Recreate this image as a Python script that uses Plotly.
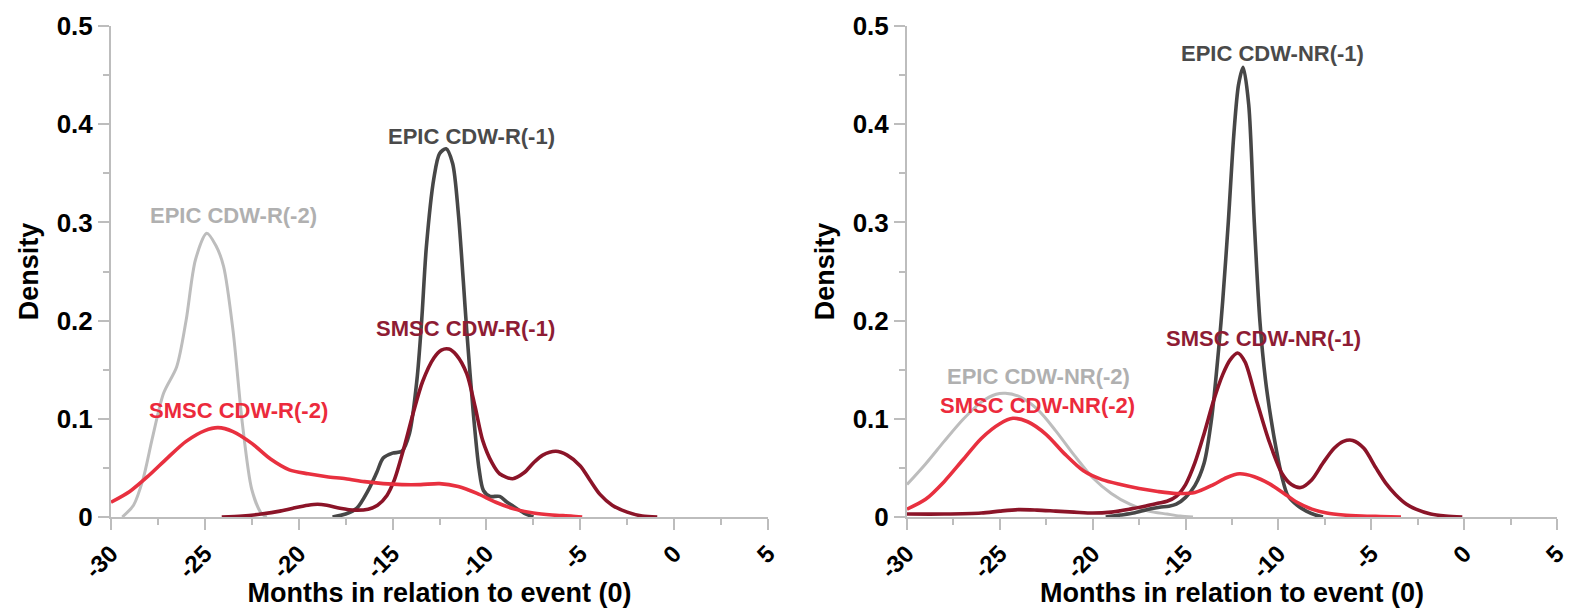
import plotly.graph_objects as go

# ---------------- data ----------------
# Left panel: CDW-R
epic_r2_x = [-29.4, -28.8, -28.3, -27.8, -27.2, -26.5, -26.0, -25.5, -24.9, -24.4, -24.0, -23.5, -23.0, -22.5, -22.0, -21.7]
epic_r2_y = [0.0, 0.012, 0.038, 0.08, 0.126, 0.153, 0.2, 0.262, 0.289, 0.276, 0.255, 0.19, 0.095, 0.028, 0.004, 0.0]

epic_r1_x = [-18.2, -17.5, -16.9, -16.3, -15.85, -15.5, -15.0, -14.5, -14.1, -13.7, -13.45, -13.2, -12.8, -12.5, -12.15,
             -11.8, -11.5, -11.23, -11.05, -10.7, -10.4, -10.16, -9.8, -9.3, -8.9, -8.57, -8.0, -7.5]
epic_r1_y = [0.0, 0.003, 0.009, 0.027, 0.045, 0.06, 0.065, 0.067, 0.085, 0.14, 0.2, 0.275, 0.345, 0.37, 0.375,
             0.36, 0.31, 0.24, 0.19, 0.106, 0.05, 0.027, 0.021, 0.021, 0.015, 0.011, 0.004, 0.0]

smsc_r1_x = [-24.1, -23.0, -22.0, -21.0, -20.3, -19.5, -19.0, -18.5, -17.8, -17.0, -16.3, -15.8, -15.3, -14.9, -14.4,
             -13.9, -13.4, -12.8, -12.4, -12.0, -11.6, -11.05, -10.6, -10.2, -9.7, -9.3, -8.6, -8.0, -7.5, -7.0,
             -6.3, -5.7, -5.0, -4.5, -3.95, -3.3, -2.5, -1.7, -0.9]
smsc_r1_y = [0.0, 0.001, 0.003, 0.006, 0.009, 0.012, 0.013, 0.012, 0.009, 0.007, 0.008, 0.012, 0.022, 0.038, 0.07,
             0.106, 0.138, 0.162, 0.17, 0.171, 0.165, 0.146, 0.112, 0.078, 0.055, 0.044, 0.039, 0.045, 0.055, 0.063,
             0.067, 0.063, 0.052, 0.038, 0.023, 0.012, 0.005, 0.001, 0.0]

smsc_r2_x = [-30.0, -29.0, -28.0, -27.0, -26.0, -25.0, -24.3, -23.5, -22.5, -21.5, -20.5, -19.5, -18.5, -17.5, -16.5,
             -15.5, -14.5, -13.5, -12.5, -11.5, -10.5, -9.5, -8.5, -7.5, -6.5, -5.5, -4.9]
smsc_r2_y = [0.015, 0.026, 0.042, 0.060, 0.077, 0.088, 0.091, 0.087, 0.075, 0.059, 0.048, 0.044, 0.041, 0.039, 0.036,
             0.034, 0.033, 0.033, 0.034, 0.031, 0.024, 0.015, 0.008, 0.004, 0.002, 0.001, 0.0]

# Right panel: CDW-NR
epic_nr2_x = [-30.0, -29.0, -28.0, -27.0, -26.0, -25.2, -24.7, -24.0, -23.0, -22.0, -21.0, -20.0, -19.0, -18.0, -17.0,
              -16.0, -15.3, -14.6]
epic_nr2_y = [0.033, 0.054, 0.077, 0.099, 0.117, 0.125, 0.126, 0.123, 0.11, 0.088, 0.063, 0.04, 0.024, 0.013, 0.006,
              0.003, 0.001, 0.0]

epic_nr1_x = [-19.3, -18.5, -17.8, -17.0, -16.4, -15.9, -15.5, -15.0, -14.5, -14.0, -13.6, -13.2, -13.0, -12.7, -12.4,
              -12.15, -11.9, -11.6, -11.3, -11.0, -10.7, -10.4, -10.1, -9.8, -9.5, -9.0, -8.5, -8.0, -7.6]
epic_nr1_y = [0.0, 0.002, 0.004, 0.008, 0.01, 0.011, 0.013, 0.02, 0.032, 0.055, 0.1, 0.175, 0.22, 0.3, 0.39,
              0.44, 0.458, 0.42, 0.3, 0.2, 0.14, 0.1, 0.067, 0.04, 0.022, 0.012, 0.006, 0.002, 0.0]

smsc_nr1_x = [-30.0, -28.0, -26.0, -25.0, -24.0, -23.0, -22.0, -21.0, -20.0, -19.0, -18.0, -17.2, -16.5, -16.0, -15.5,
              -15.0, -14.5, -14.0, -13.5, -13.0, -12.6, -12.2, -11.8, -11.2, -10.5, -9.8, -9.3, -8.8, -8.2, -7.6,
              -7.0, -6.5, -6.0, -5.4, -4.75, -4.2, -3.7, -3.1, -2.6, -1.8, -1.0, -0.1]
smsc_nr1_y = [0.003, 0.003, 0.004, 0.006, 0.0075, 0.007, 0.006, 0.005, 0.004, 0.005, 0.008, 0.011, 0.014, 0.016, 0.021,
              0.033, 0.055, 0.085, 0.118, 0.145, 0.16, 0.167, 0.158, 0.12, 0.077, 0.044, 0.033, 0.030, 0.038, 0.055,
              0.07, 0.077, 0.078, 0.07, 0.05, 0.034, 0.023, 0.013, 0.008, 0.003, 0.001, 0.0]

smsc_nr2_x = [-30.0, -29.0, -28.0, -27.0, -26.0, -25.0, -24.3, -23.5, -22.5, -21.5, -20.5, -19.5, -18.5, -17.5, -16.5,
              -15.5, -14.5, -13.5, -12.8, -12.1, -11.3, -10.5, -9.7, -9.0, -8.2, -7.4, -6.5, -5.5, -4.5, -3.4]
smsc_nr2_y = [0.008, 0.018, 0.036, 0.058, 0.08, 0.095, 0.1005, 0.097, 0.084, 0.064, 0.047, 0.038, 0.033, 0.029, 0.026,
              0.024, 0.025, 0.033, 0.04, 0.044, 0.041, 0.034, 0.024, 0.015, 0.008, 0.004, 0.002, 0.001, 0.0005, 0.0]

# axis ticks
x_tickvals = [-30, -25, -20, -15, -10, -5, 0, 5]
x_ticktext = ["-30", "-25", "-20", "-15", "-10", "-5", "0", "5"]
y_tickvals = [0, 0.1, 0.2, 0.3, 0.4, 0.5]
y_ticktext = ["0", "0.1", "0.2", "0.3", "0.4", "0.5"]

# labels
labels_left = ["EPIC CDW-R(-1)", "EPIC CDW-R(-2)", "SMSC CDW-R(-1)", "SMSC CDW-R(-2)"]
labels_right = ["EPIC CDW-NR(-1)", "EPIC CDW-NR(-2)", "SMSC CDW-NR(-1)", "SMSC CDW-NR(-2)"]
label_pos_left = [(-10.8, 0.387), (-23.5, 0.307), (-11.1, 0.192), (-23.2, 0.108)]
label_pos_right = [(-10.3, 0.472), (-22.9, 0.143), (-10.8, 0.182), (-22.97, 0.114)]

x_title = "Months in relation to event (0)"
y_title = "Density"

# ---------------- styles ----------------
C_EPIC1 = "#474747"
C_EPIC2 = "#bdbdbd"
C_SMSC1 = "#8b1428"
C_SMSC2 = "#e8303f"
L_EPIC1 = "#4a4a4a"
L_EPIC2 = "#b0b0b0"
L_SMSC1 = "#8e1c34"
L_SMSC2 = "#ec2a3c"
AXC = "#bdbdbd"
FONT = "Liberation Sans, Arial, sans-serif"

fig = go.Figure()

def add(x, y, color, w, xa, ya):
    fig.add_trace(go.Scatter(x=x, y=y, mode="lines", xaxis=xa, yaxis=ya,
                             line=dict(color=color, width=w, shape="spline", smoothing=0.8),
                             showlegend=False, hoverinfo="skip"))

add(epic_r2_x, epic_r2_y, C_EPIC2, 3, "x", "y")
add(epic_r1_x, epic_r1_y, C_EPIC1, 3.6, "x", "y")
add(smsc_r1_x, smsc_r1_y, C_SMSC1, 3.6, "x", "y")
add(smsc_r2_x, smsc_r2_y, C_SMSC2, 3.6, "x", "y")

add(epic_nr2_x, epic_nr2_y, C_EPIC2, 3, "x2", "y2")
add(epic_nr1_x, epic_nr1_y, C_EPIC1, 3.6, "x2", "y2")
add(smsc_nr1_x, smsc_nr1_y, C_SMSC1, 3.6, "x2", "y2")
add(smsc_nr2_x, smsc_nr2_y, C_SMSC2, 3.6, "x2", "y2")

lab_colors = [L_EPIC1, L_EPIC2, L_SMSC1, L_SMSC2]
for txt, (px, py), c in zip(labels_left, label_pos_left, lab_colors):
    fig.add_annotation(x=px, y=py, xref="x", yref="y", text=txt, showarrow=False,
                       font=dict(family=FONT, size=22, color=c, weight="bold"))
for txt, (px, py), c in zip(labels_right, label_pos_right, lab_colors):
    fig.add_annotation(x=px, y=py, xref="x2", yref="y2", text=txt, showarrow=False,
                       font=dict(family=FONT, size=22, color=c, weight="bold"))

W, H = 1570, 608

def xax(domain):
    return dict(domain=domain, range=[-30, 5], tickmode="array", tickvals=x_tickvals, ticktext=x_ticktext,
                ticks="outside", ticklen=11, automargin=False, ticklabeloverflow="allow",
                tickwidth=2, tickcolor=AXC, showline=True, linecolor=AXC, linewidth=2,
                minor=dict(dtick=2.5, tick0=-30, ticks="outside", ticklen=6, tickwidth=2, tickcolor=AXC),
                tickangle=-45, showgrid=False, zeroline=False,
                tickfont=dict(family=FONT, size=24, color="#000", weight="bold"),
                title=dict(text=x_title, standoff=20,
                           font=dict(family=FONT, size=27, color="#000", weight="bold")))

def yax(anchor):
    return dict(domain=[(H - 517) / H, (H - 26) / H], range=[0, 0.5], anchor=anchor,
                tickmode="array", tickvals=y_tickvals, ticktext=y_ticktext, automargin=False,
                ticks="outside", ticklen=11, tickwidth=2, tickcolor=AXC,
                showline=True, linecolor=AXC, linewidth=2,
                minor=dict(dtick=0.05, tick0=0, ticks="outside", ticklen=6, tickwidth=2, tickcolor=AXC),
                showgrid=False, zeroline=False,
                tickfont=dict(family=FONT, size=26, color="#000", weight="bold"),
                title=dict(text=y_title, standoff=10,
                           font=dict(family=FONT, size=27, color="#000", weight="bold")))

fig.update_layout(
    width=W, height=H,
    margin=dict(l=0, r=0, t=0, b=0),
    paper_bgcolor="white", plot_bgcolor="white",
    xaxis=dict(xax([111 / W, 768 / W]), anchor="y"),
    yaxis=yax("x"),
    xaxis2=dict(xax([907 / W, 1557 / W]), anchor="y2"),
    yaxis2=yax("x2"),
)

fig.write_html("out.html")
